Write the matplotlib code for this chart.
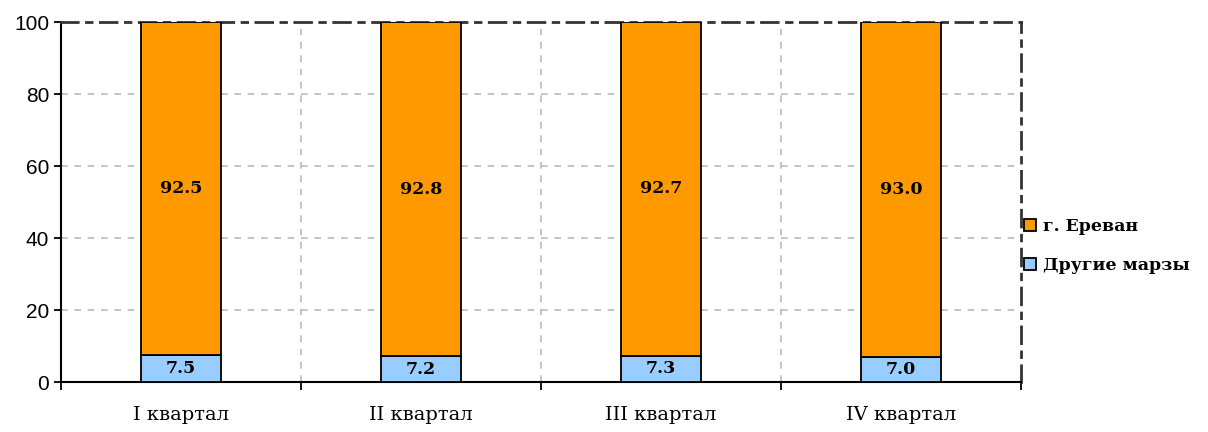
import matplotlib.pyplot as plt
import numpy as np

# data
quarters = ['I квартал', 'II квартал', 'III квартал', 'IV квартал']
yerevan = [92.5, 92.8, 92.7, 93.0]
other = [7.5, 7.2, 7.3, 7.0]
yerevan_labels = ['92.5', '92.8', '92.7', '93.0']
other_labels = ['7.5', '7.2', '7.3', '7.0']

fig = plt.figure(figsize=(12.08, 4.32), dpi=100)
ax = fig.add_axes([61/1208, 1-382/432, 960/1208, 360/432])

x = np.arange(len(quarters))
w = 1/3
b1 = ax.bar(x, other, w, color='#99CCFF', edgecolor='black', linewidth=1.3,
            label='Другие марзы', zorder=3)
b2 = ax.bar(x, yerevan, w, bottom=other, color='#FF9900', edgecolor='black',
            linewidth=1.3, label='г. Ереван', zorder=3)

for i in range(len(quarters)):
    ax.text(x[i], other[i] + yerevan[i]/2, yerevan_labels[i], ha='center', va='center',
            fontsize=12.5, fontweight='bold', family='DejaVu Serif', zorder=4)
    ax.text(x[i], other[i]/2, other_labels[i], ha='center', va='center',
            fontsize=12.5, fontweight='bold', family='DejaVu Serif', zorder=4)

ax.set_xlim(-0.5, len(quarters) - 0.5)
ax.set_ylim(0, 100)
ax.set_yticks([0, 20, 40, 60, 80, 100])
ax.set_yticklabels(['0', '20', '40', '60', '80', '100'], family='Liberation Sans', fontsize=15)
ax.tick_params(axis='y', length=5, width=1.3, direction='out')

# category ticks at boundaries, labels at centers
ax.set_xticks(np.arange(-0.5, len(quarters)), minor=False)
ax.set_xticklabels([])
ax.set_xticks(x, minor=True)
ax.set_xticklabels(quarters, minor=True, family='DejaVu Serif', fontsize=14)
ax.tick_params(axis='x', which='major', length=6, width=1.3, direction='out')
ax.tick_params(axis='x', which='minor', length=0, pad=17)

# gridlines
for yv in [20, 40, 60, 80]:
    ax.axhline(yv, color='#BBBBBB', linestyle=(0, (4, 4)), linewidth=1.2, zorder=1)
for xv in [0.5, 1.5, 2.5]:
    ax.axvline(xv, color='#BBBBBB', linestyle=(0, (4, 4)), linewidth=1.2, zorder=1)

ax.spines['left'].set_linewidth(1.5)
ax.spines['bottom'].set_linewidth(1.5)
for s in ['top', 'right']:
    ax.spines[s].set_linewidth(2)
    ax.spines[s].set_color('#333333')
    ax.spines[s].set_linestyle((0, (6, 3, 2, 3)))

leg = fig.legend(handles=[b2, b1], loc='center left', bbox_to_anchor=(1008/1208, 1-246/432),
                 frameon=False, prop={'family': 'DejaVu Serif', 'weight': 'bold', 'size': 12.5},
                 handlelength=0.7, handleheight=0.7, handletextpad=0.4, labelspacing=1.3)

fig.savefig('out.png', dpi=100)
